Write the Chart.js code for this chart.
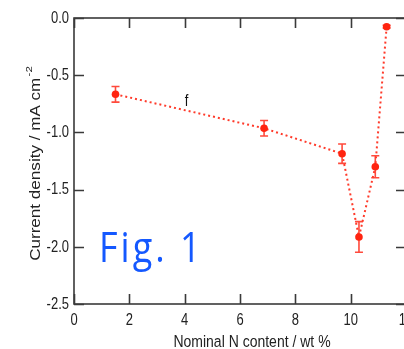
<!DOCTYPE html>
<html><head><meta charset="utf-8">
<script src="https://cdn.jsdelivr.net/npm/chart.js@4/dist/chart.umd.min.js"></script>
<style>
html,body{margin:0;padding:0;background:#fff;overflow:hidden;width:404px;height:349px;}
#wrap{position:relative;width:404px;height:349px;overflow:hidden;background:#fff;}
canvas{position:absolute;left:0;top:0;}
#fig{position:absolute;left:99px;top:226px;font-family:"Open Sans";font-size:36px;letter-spacing:3px;color:#1458ff;line-height:1;white-space:nowrap;transform:scaleY(1.15);transform-origin:0 0;}
</style></head><body>
<div id="wrap"><canvas id="c" width="412" height="349"></canvas><div id="fig">Fig. 1</div></div>
<script>
// Data
const nContent = [1.5, 6.87, 9.69, 10.30, 10.89, 11.30];           // wt %
const currentDensity = [-0.667, -0.964, -1.186, -1.914, -1.30, -0.076]; // mA cm^-2
const errorBars = [0.068, 0.068, 0.085, 0.134, 0.096, 0.012];
const xTickValues = [0, 2, 4, 6, 8, 10, 12];
const yTickValues = [0, -0.5, -1.0, -1.5, -2.0, -2.5];
const xTitle = 'Nominal N content / wt %';
const yTitle = 'Current density / mA cm';
const yTitleSup = '-2';
const seriesLabel = 'f';
const seriesLabelAt = {x: 4.07, y: -0.73};

const FONT = '"Liberation Sans", Arial, sans-serif';
const RED = '#ff2410';
const AXIS = '#3a3a3a';
const STRETCH = 1.22; // the reference picture is stretched vertically

function stretchedText(ctx, text, x, y, align, baseline) {
  ctx.save();
  ctx.translate(x, y);
  ctx.scale(1, STRETCH);
  ctx.textAlign = align;
  ctx.textBaseline = baseline;
  ctx.fillText(text, 0, 0);
  ctx.restore();
}

const framePlugin = {
  id: 'frame',
  beforeDatasetsDraw(chart) {
    const {ctx, scales: {x, y}} = chart;
    ctx.save();
    ctx.strokeStyle = '#ff4a3c';
    ctx.lineWidth = 1.6;
    nContent.forEach((v, i) => {
      const px = x.getPixelForValue(v);
      const y1 = y.getPixelForValue(currentDensity[i] + errorBars[i]);
      const y2 = y.getPixelForValue(currentDensity[i] - errorBars[i]);
      ctx.beginPath();
      ctx.moveTo(px, y1); ctx.lineTo(px, y2);
      ctx.moveTo(px - 4, y1); ctx.lineTo(px + 4, y1);
      ctx.moveTo(px - 4, y2); ctx.lineTo(px + 4, y2);
      ctx.stroke();
    });
    ctx.restore();
  },
  afterDraw(chart) {
    const {ctx, chartArea: a, scales: {x, y}} = chart;
    ctx.save();
    ctx.strokeStyle = AXIS;
    ctx.lineWidth = 1.6;
    ctx.strokeRect(a.left, a.top, a.right - a.left, a.bottom - a.top);
    const tl = 10;
    ctx.beginPath();
    x.ticks.forEach(t => {
      const px = Math.round(x.getPixelForValue(t.value)) + 0.5;
      ctx.moveTo(px, a.bottom); ctx.lineTo(px, a.bottom - tl);
      ctx.moveTo(px, a.top); ctx.lineTo(px, a.top + tl);
    });
    y.ticks.forEach(t => {
      const py = Math.round(y.getPixelForValue(t.value)) + 0.5;
      ctx.moveTo(a.left, py); ctx.lineTo(a.left + tl, py);
      ctx.moveTo(a.right, py); ctx.lineTo(a.right - tl, py);
    });
    ctx.stroke();

    // tick labels (from the library's scales)
    ctx.fillStyle = '#222';
    ctx.font = '13px ' + FONT;
    x.ticks.forEach(t => {
      stretchedText(ctx, String(t.value), x.getPixelForValue(t.value), a.bottom + 16.5, 'center', 'middle');
    });
    y.ticks.forEach(t => {
      stretchedText(ctx, Number(t.value).toFixed(1), a.left - 5, y.getPixelForValue(t.value) + 0.5, 'right', 'middle');
    });

    // x title
    ctx.font = '14px ' + FONT;
    stretchedText(ctx, xTitle, 252, 346.5, 'center', 'alphabetic');

    // y title with superscript (stretched along its length)
    ctx.save();
    ctx.translate(40, 163.5);
    ctx.rotate(-Math.PI / 2);
    ctx.scale(STRETCH, 1);
    ctx.font = '14px ' + FONT;
    const w1 = ctx.measureText(yTitle).width;
    ctx.font = '9.5px ' + FONT;
    const w2 = ctx.measureText(yTitleSup).width;
    const start = -(w1 + w2 + 1) / 2;
    ctx.textAlign = 'left';
    ctx.textBaseline = 'alphabetic';
    ctx.font = '14px ' + FONT;
    ctx.fillText(yTitle, start, 0);
    ctx.font = '9.5px ' + FONT;
    ctx.fillText(yTitleSup, start + w1 + 1, -8);
    ctx.restore();

    // series label
    ctx.font = '13px ' + FONT;
    ctx.fillStyle = '#111';
    stretchedText(ctx, seriesLabel, x.getPixelForValue(seriesLabelAt.x), y.getPixelForValue(seriesLabelAt.y) + 4, 'center', 'alphabetic');
    ctx.restore();
  }
};

new Chart(document.getElementById('c'), {
  type: 'scatter',
  data: {
    datasets: [{
      data: nContent.map((v, i) => ({x: v, y: currentDensity[i]})),
      showLine: true,
      borderColor: '#ff3a2a',
      borderWidth: 2,
      borderDash: [2, 3],
      pointRadius: 3.8,
      pointBackgroundColor: RED,
      pointBorderColor: RED,
      pointBorderWidth: 0,
      tension: 0
    }]
  },
  options: {
    responsive: false,
    animation: false,
    devicePixelRatio: 1,
    layout: {padding: {left: 0, top: 18, right: 6, bottom: 0}},
    plugins: {legend: {display: false}, tooltip: {enabled: false}},
    scales: {
      x: {
        type: 'linear', min: 0, max: 12,
        afterBuildTicks: s => { s.ticks = xTickValues.map(v => ({value: v})); },
        ticks: {display: false},
        grid: {display: false, drawTicks: false},
        border: {display: false},
        afterFit: s => { s.height = 45; s.paddingLeft = 0; s.paddingRight = 0; }
      },
      y: {
        type: 'linear', min: -2.5, max: 0,
        afterBuildTicks: s => { s.ticks = yTickValues.map(v => ({value: v})); },
        ticks: {display: false},
        grid: {display: false, drawTicks: false},
        border: {display: false},
        afterFit: s => { s.width = 74; s.paddingTop = 0; s.paddingBottom = 0; }
      }
    }
  },
  plugins: [framePlugin]
});
</script>
</body></html>
